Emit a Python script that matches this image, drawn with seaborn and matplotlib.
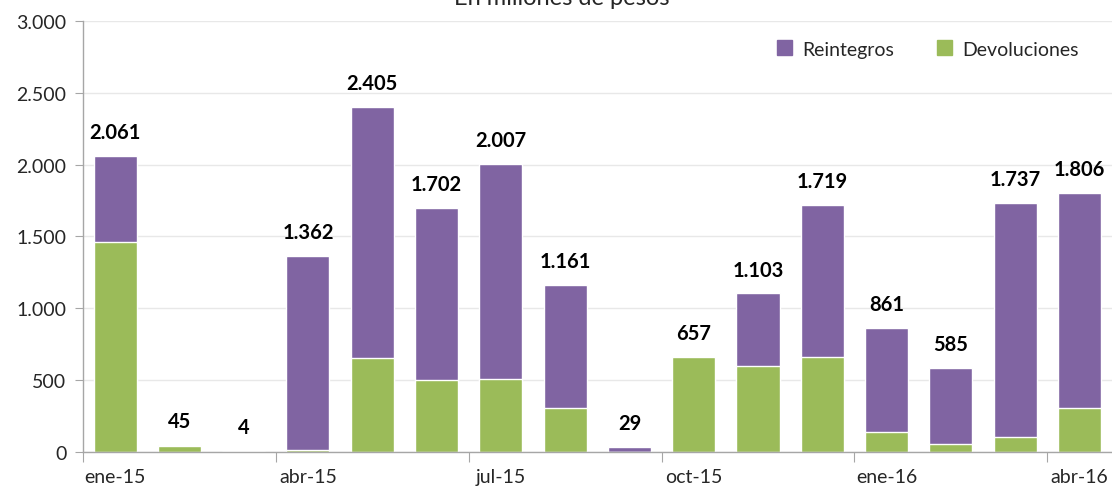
import matplotlib
matplotlib.use("Agg")
import matplotlib.pyplot as plt
import seaborn as sns
import pandas as pd
from matplotlib.ticker import FuncFormatter, FixedLocator
from matplotlib.patches import Patch

meses = ["ene-15", "feb-15", "mar-15", "abr-15", "may-15", "jun-15", "jul-15", "ago-15",
         "sep-15", "oct-15", "nov-15", "dic-15", "ene-16", "feb-16", "mar-16", "abr-16"]
totales = [2061, 45, 4, 1362, 2405, 1702, 2007, 1161, 29, 657, 1103, 1719, 861, 585, 1737, 1806]
devoluciones = [1460, 40, 4, 10, 650, 497, 505, 302, 0, 657, 598, 662, 137, 52, 102, 305]
etiquetas_x = ["ene-15", "abr-15", "jul-15", "oct-15", "ene-16", "abr-16"]

df = pd.DataFrame({"mes": meses, "total": totales, "devoluciones": devoluciones})
df["reintegros"] = df["total"] - df["devoluciones"]

purple = "#8064A2"
green = "#9BBB59"

sns.set_style("white")
plt.rcParams["font.family"] = ["Lato", "DejaVu Sans"]

fig = plt.figure(figsize=(11.12, 4.89), dpi=100)
ax = fig.add_axes([0.0746, 0.0746, 0.925, 0.8795])

sns.barplot(data=df, x="mes", y="total", order=meses, color=purple, width=0.67,
            saturation=1, ax=ax, label="Reintegros")
sns.barplot(data=df, x="mes", y="devoluciones", order=meses, color=green, width=0.67,
            saturation=1, ax=ax, label="Devoluciones")

# etiquetas de total
for i, v in enumerate(totales):
    ax.annotate(f"{v:,}".replace(",", "."), (i, v), xytext=(0, 10), textcoords="offset points",
                ha="center", va="bottom", fontsize=14.5, fontweight="bold", color="black")

ax.set_ylim(0, 3000)
ax.set_xlim(-0.5, len(meses) - 0.5)
ax.set_yticks(range(0, 3001, 500))
ax.yaxis.set_major_formatter(FuncFormatter(lambda v, p: f"{int(v):,}".replace(",", ".")))
ax.yaxis.grid(True, color="#E8E8E8", linewidth=1)
ax.set_axisbelow(True)

# ticks en los limites de cada trimestre, etiquetas centradas en el mes
ax.xaxis.set_major_locator(FixedLocator([-0.5, 2.5, 5.5, 8.5, 11.5, 14.5]))
ax.xaxis.set_major_formatter(FuncFormatter(lambda v, p: ""))
ax.xaxis.set_minor_locator(FixedLocator([meses.index(m) for m in etiquetas_x]))
ax.set_xticklabels(etiquetas_x, minor=True)
ax.tick_params(axis="x", which="major", length=7, color="#A6A6A6", direction="out", bottom=True)
ax.tick_params(axis="x", which="minor", length=0, pad=12, labelsize=14)
ax.tick_params(axis="y", length=6, color="#A6A6A6", direction="out", left=True, labelsize=14, pad=6)

for s in ["top", "right"]:
    ax.spines[s].set_visible(False)
for s in ["left", "bottom"]:
    ax.spines[s].set_color("#A6A6A6")
    ax.spines[s].set_linewidth(1)

ax.set_xlabel("")
ax.set_ylabel("")

handles = [Patch(color=purple), Patch(color=green)]
ax.legend(handles, ["Reintegros", "Devoluciones"], loc="center right", bbox_to_anchor=(0.985, 0.936),
          ncol=2, frameon=False, fontsize=14, handlelength=0.8, handleheight=0.8,
          columnspacing=2.2, handletextpad=0.5)

fig.text(0.505, 1 - 5 / 489, "En millones de pesos", ha="center", va="baseline", fontsize=17)

fig.savefig("out.png", dpi=100)
